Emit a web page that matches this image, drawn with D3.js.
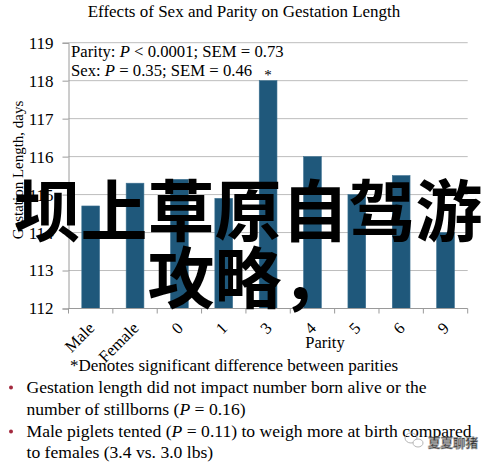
<!DOCTYPE html>
<html>
<head>
<meta charset="utf-8">
<script src="https://cdn.jsdelivr.net/npm/d3@7"></script>
<style>
html,body{margin:0;padding:0;background:#fff;}
svg{display:block;}
text{font-family:"Liberation Serif","Times New Roman",serif;fill:#000;}
</style>
</head>
<body>
<svg id="chart" width="492" height="464"></svg>
<script>
const categories = ["Male","Female","0","1","3","4","5","6","9"];
const gestationDays = [114.7,115.3,115.4,114.9,118.0,116.0,115.0,115.5,114.0];
const yTicks = [112,113,114,115,116,117,118,119];
const significant = ["3"];
const titleText = "Effects of Sex and Parity on Gestation Length";
const yTitle = "Gestation Length, days";
const xTitle = "Parity";
const footnote = "*Denotes significant difference between parities";
const bullets = [
  ["Gestation length did not impact number born alive or the", ["number of stillborns (", {i:"P"}, " = 0.16)"]],
  [["Male piglets tented (", {i:"P"}, " = 0.11) to weigh more at birth compared"], "to females (3.4 vs. 3.0 lbs)"]
];
const overlayLines = ["坝上草原自驾游","攻略，"];
const watermark = "夏夏聊猪";

const svg = d3.select("#chart");
const L = 68.5, R = 467.7, T = 42.7, B = 308.5;

const x = d3.scaleBand().domain(categories).range([L, R]).paddingInner(0.6).paddingOuter(0.3);
const y = d3.scaleLinear().domain([112,119]).range([B, T]);

// title
svg.append("text").attr("x",244).attr("y",17).attr("text-anchor","middle")
  .style("font-size","17px").text(titleText);

// gridlines
svg.append("g").selectAll("line").data(yTicks.filter(t=>t>112)).join("line")
  .attr("x1",L).attr("x2",R).attr("y1",d=>y(d)).attr("y2",d=>y(d))
  .attr("stroke","#bdbdbd").attr("stroke-width",1);

// bars
svg.append("g").selectAll("rect").data(categories).join("rect")
  .attr("x",d=>x(d)).attr("width",x.bandwidth())
  .attr("y",(d,i)=>y(gestationDays[i])).attr("height",(d,i)=>B-y(gestationDays[i]))
  .attr("fill","#1f587b").attr("stroke","#3b7090").attr("stroke-width",0.6);

// significance marker
svg.append("g").selectAll("text").data(significant).join("text")
  .attr("x",d=>x(d)+x.bandwidth()/2).attr("y",d=>y(gestationDays[categories.indexOf(d)])-1)
  .attr("text-anchor","middle").style("font-size","15px").text("*");

// y axis
const yAxis = d3.axisLeft(y).tickValues(yTicks).tickSize(6).tickPadding(9).tickFormat(d3.format("d"));
const gy = svg.append("g").attr("transform",`translate(${L},0)`).call(yAxis);
gy.select(".domain").attr("stroke","#9a9a9a");
gy.selectAll(".tick line").attr("stroke","#9a9a9a");
gy.selectAll(".tick text").style("font-size","17px").style("font-family","Liberation Serif").attr("fill","#000");

// x axis baseline and boundary ticks
svg.append("line").attr("x1",L).attr("x2",R).attr("y1",B).attr("y2",B).attr("stroke","#9a9a9a");
const bounds = categories.map(c=>x(c)+x.bandwidth()/2-x.step()/2).concat([R]);
svg.append("g").selectAll("line").data(bounds).join("line")
  .attr("x1",d=>d).attr("x2",d=>d).attr("y1",B).attr("y2",B+5).attr("stroke","#9a9a9a");

// x labels rotated
svg.append("g").selectAll("text").data(categories).join("text")
  .attr("transform",d=>`translate(${x(d)+x.bandwidth()/2+2},${B+18}) rotate(-45)`)
  .attr("text-anchor","end").attr("dominant-baseline","middle")
  .style("font-size","16.5px").text(d=>d);

// axis titles
svg.append("text").attr("transform","translate(23,170) rotate(-90)").attr("text-anchor","middle")
  .style("font-size","15px").text(yTitle);
svg.append("text").attr("x",325).attr("y",348).attr("text-anchor","middle")
  .style("font-size","16.5px").text(xTitle);

// stats annotation
function rich(sel, parts){
  (Array.isArray(parts)?parts:[parts]).forEach(p=>{
    if(typeof p === "string") sel.append("tspan").text(p);
    else sel.append("tspan").style("font-style","italic").text(p.i);
  });
}
const a1 = svg.append("text").attr("x",71).attr("y",57).style("font-size","16.7px");
rich(a1, ["Parity: ", {i:"P"}, " < 0.0001; SEM = 0.73"]);
const a2 = svg.append("text").attr("x",71).attr("y",76).style("font-size","16.7px");
rich(a2, ["Sex: ", {i:"P"}, " = 0.35; SEM = 0.46"]);

// footnote
svg.append("text").attr("x",70).attr("y",371).style("font-size","17px").text(footnote);

// bullets
const lineY = [393,415,437,458];
bullets.forEach((b,bi)=>{
  svg.append("circle").attr("cx",11).attr("cy",lineY[bi*2]-5.5).attr("r",2).attr("fill","#a3293e");
  b.forEach((ln,li)=>{
    const t = svg.append("text").attr("x",26.5).attr("y",lineY[bi*2+li]).style("font-size","17.6px");
    rich(t, ln);
  });
});

// watermark
const wm = svg.append("g").attr("opacity",0.85);
wm.append("ellipse").attr("cx",411).attr("cy",438).attr("rx",6).attr("ry",5).attr("fill","none").attr("stroke","#aaa").attr("stroke-width",1);
wm.append("ellipse").attr("cx",418).attr("cy",443).attr("rx",5).attr("ry",4).attr("fill","#fff").attr("stroke","#aaa").attr("stroke-width",1);
wm.append("text").attr("x",428).attr("y",448).style("font-family","Noto Sans CJK SC").style("font-size","12.5px")
  .style("font-weight","bold").attr("fill","#fff").attr("stroke","#888").attr("stroke-width",0.7).text(watermark);

// magenta overlay text
svg.append("g").selectAll("text").data(overlayLines).join("text")
  .attr("x",248).attr("y",(d,i)=>206+i*67).attr("text-anchor","middle").attr("dominant-baseline","central")
  .style("font-family","Noto Sans CJK SC").style("font-weight","bold").style("font-size","67px")
  .attr("fill","#ff00ff").text(d=>d);
</script>
</body>
</html>
